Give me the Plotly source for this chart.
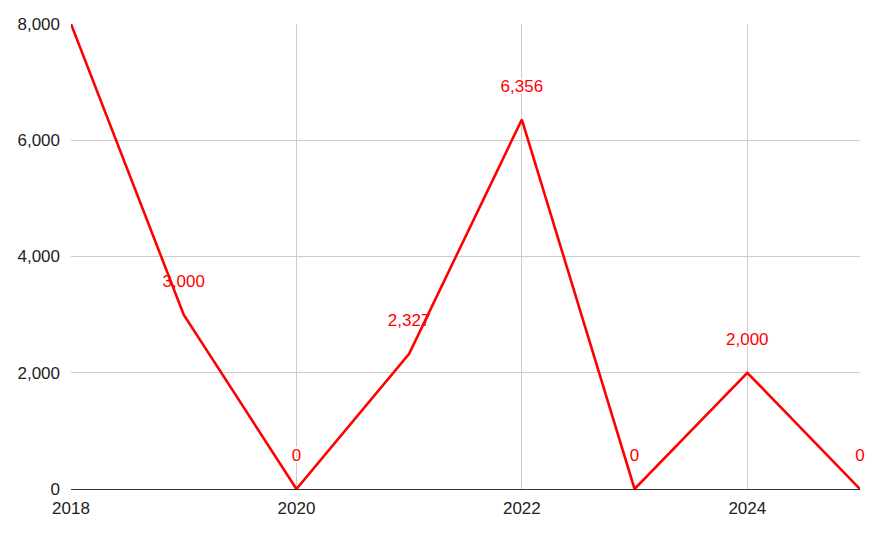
import plotly.graph_objects as go

years = [2018, 2019, 2020, 2021, 2022, 2023, 2024, 2025]
values = [8000, 3000, 0, 2327, 6356, 0, 2000, 0]
y_ticks = [0, 2000, 4000, 6000, 8000]
x_ticks = [2018, 2020, 2022, 2024]

labels = [f"{v:,}" for v in values]
halo = "white 1px 1px 0px, white -1px -1px 0px, white 1px -1px 0px, white -1px 1px 0px, white 0px 2px 0px, white 0px -2px 0px"
FONT = "Arial, Liberation Sans, sans-serif"

fig = go.Figure()
fig.add_trace(go.Scatter(
    x=years, y=values, mode="markers+text", text=labels,
    textposition="top center",
    marker=dict(size=36, color="rgba(0,0,0,0)"),
    textfont=dict(family=FONT, size=17, color="#ff0000", shadow=halo),
    cliponaxis=False, hoverinfo="skip", showlegend=False,
))
fig.add_trace(go.Scatter(
    x=years, y=values, mode="lines",
    line=dict(color="#ff0000", width=2.6),
    cliponaxis=False, showlegend=False,
))

# page has an 8px body margin, so the figure is offset by 8px
fig.update_layout(
    width=870, height=526,
    margin=dict(l=63, r=18, t=16, b=45, autoexpand=False),
    paper_bgcolor="white", plot_bgcolor="white",
    font=dict(family=FONT, size=17, color="#222222"),
)
fig.update_xaxes(
    range=[2018, 2025], tickvals=x_ticks, ticktext=[str(t) for t in x_ticks],
    showgrid=True, gridcolor="#cccccc", gridwidth=1, automargin=False,
    zeroline=False, showline=False, ticks="", ticklabelstandoff=7,
)
fig.update_yaxes(
    range=[0, 8000], tickvals=y_ticks, ticktext=[f"{t:,}" for t in y_ticks],
    showgrid=True, gridcolor="#cccccc", gridwidth=1, automargin=False,
    zeroline=True, zerolinecolor="#333333", zerolinewidth=1.2,
    showline=False, ticks="", ticklabelstandoff=10,
)

fig.write_html("out.html")
